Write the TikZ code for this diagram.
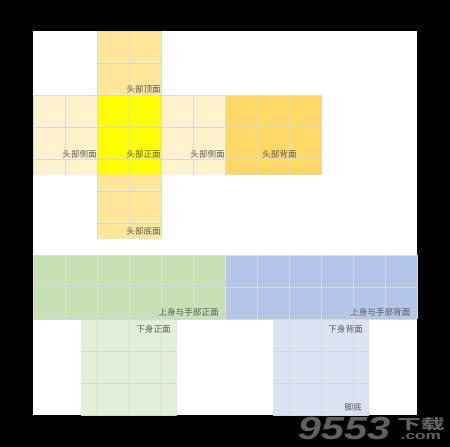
\documentclass[tikz,border=0pt]{standalone}
\usepackage{fontspec}
\usepackage{graphicx}
\newfontfamily\cjk{Noto Sans CJK SC}
\newfontfamily\wmfont{Liberation Sans}

\definecolor{kopfoben}{HTML}{FFE699}
\definecolor{kopfseite}{HTML}{FFF2CC}
\definecolor{kopfvorn}{HTML}{FFFF00}
\definecolor{kopfhinten}{HTML}{FFD966}
\definecolor{obenvorn}{HTML}{C6E0B4}
\definecolor{obenhinten}{HTML}{B4C6E7}
\definecolor{untenvorn}{HTML}{E2EFDA}
\definecolor{untenhinten}{HTML}{DAE3F3}
\definecolor{raster}{HTML}{D9D9D9}
\definecolor{schrift}{HTML}{595959}

\tikzset{
    gitter/.style={draw=raster, line width=0.6pt, step=1},
    beschriftung/.style={inner sep=0pt, text=schrift, font=\cjk\fontsize{8.6}{10}\selectfont},
    wasser/.style={inner sep=0pt, text=gray!75!black}
}

\begin{document}
\begin{tikzpicture}[x=32pt, y=32pt]
    % Rahmen
    \useasboundingbox (-1.03125,-1) rectangle (13.03125,12.96875);
    \fill[black] (-1.03125,-1) rectangle (13.03125,12.96875);
    \fill[white] (0,0) rectangle (12,12);

    % Flaechen: x1/y1/x2/y2/Farbe
    \foreach \xa/\ya/\xb/\yb/\farbe in {
            2/10/4/12/kopfoben,
            0/7.5/2/10/kopfseite,
            2/7.5/4/10/kopfvorn,
            4/7.5/6/10/kopfseite,
            6/7.5/9/10/kopfhinten,
            2/5.5/4/7.5/kopfoben,
            0/3/6/5/obenvorn,
            6/3/12/5/obenhinten,
            1.5/0/4.5/3/untenvorn,
            7.5/0/10.5/3/untenhinten} {
        \fill[\farbe] (\xa,\ya) rectangle (\xb,\yb);
        \draw[gitter] (\xa,\ya) grid (\xb,\yb);
    }

    % Beschriftungen
    \node[beschriftung, anchor=east] (kopfoben) at (4,10.19) {头部顶面};
    \node[beschriftung, anchor=east] (kopflinks) at (2,8.16) {头部侧面};
    \node[beschriftung, anchor=east] (kopfvorn) at (4,8.16) {头部正面};
    \node[beschriftung, anchor=east] (kopfrechts) at (6,8.16) {头部侧面};
    \node[beschriftung] (kopfhinten) at (7.7,8.16) {头部背面};
    \node[beschriftung, anchor=east] (kopfunten) at (4,5.75) {头部底面};
    \node[beschriftung, anchor=east] (obenvorn) at (5.81,3.22) {上身与手部正面};
    \node[beschriftung, anchor=east] (obenhinten) at (11.8,3.22) {上身与手部背面};
    \node[beschriftung, anchor=east] (untenvorn) at (4.31,2.69) {下身正面};
    \node[beschriftung, anchor=east] (untenhinten) at (10.31,2.69) {下身背面};
    \node[beschriftung, anchor=east] (fuss) at (10.28,0.23) {脚底};

    % Wasserzeichen
    \node[wasser, anchor=base, xscale=1.3, transform shape,
          font=\wmfont\bfseries\itshape\fontsize{32}{32}\selectfont] (zahl) at (9.72,-0.78) {9553};
    \node[wasser, anchor=north, align=center, font=\fontsize{10}{10}\selectfont] (zeichen) at (12.12,-0.06)
        {\scalebox{1.7}[1]{\cjk\bfseries\fontsize{14}{14}\selectfont 下载}\\
         \scalebox{1.5}[1]{\wmfont\bfseries\fontsize{11.5}{11.5}\selectfont .com}};
\end{tikzpicture}
\end{document}
